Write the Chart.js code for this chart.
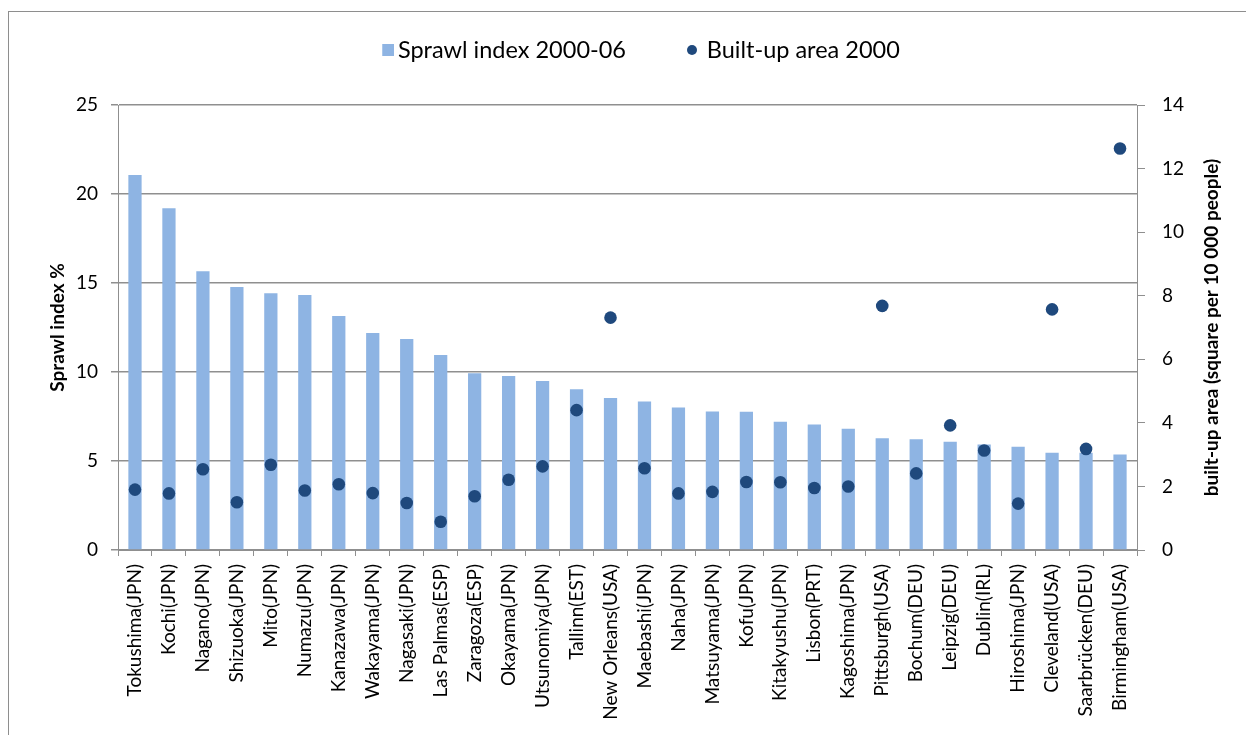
<!DOCTYPE html>
<html>
<head>
<meta charset="utf-8">
<script src="https://cdn.jsdelivr.net/npm/chart.js@4/dist/chart.umd.min.js"></script>
<style>
  html, body { margin: 0; padding: 0; background: #fff; overflow: hidden; }
  #frame { position: absolute; left: 8px; top: 11px; width: 1400px; height: 900px; border: 1px solid #8e8e8e; }
  #wrap { position: absolute; left: 0; top: 0; width: 1246px; height: 735px; }
</style>
</head>
<body>
<div id="frame"></div>
<div id="wrap"><canvas id="chart" width="1246" height="735"></canvas></div>
<script>
const cities = [
  "Tokushima(JPN)", "Kochi(JPN)", "Nagano(JPN)", "Shizuoka(JPN)", "Mito(JPN)",
  "Numazu(JPN)", "Kanazawa(JPN)", "Wakayama(JPN)", "Nagasaki(JPN)", "Las Palmas(ESP)",
  "Zaragoza(ESP)", "Okayama(JPN)", "Utsunomiya(JPN)", "Tallinn(EST)", "New Orleans(USA)",
  "Maebashi(JPN)", "Naha(JPN)", "Matsuyama(JPN)", "Kofu(JPN)", "Kitakyushu(JPN)",
  "Lisbon(PRT)", "Kagoshima(JPN)", "Pittsburgh(USA)", "Bochum(DEU)", "Leipzig(DEU)",
  "Dublin(IRL)", "Hiroshima(JPN)", "Cleveland(USA)", "Saarbrücken(DEU)", "Birmingham(USA)"
];

// sprawl index 2000-06, % (left axis)
const sprawlIndex = [
  21.07, 19.2, 15.66, 14.78, 14.42, 14.33, 13.15, 12.19, 11.85, 10.96,
  9.93, 9.78, 9.49, 9.03, 8.54, 8.34, 8.0, 7.78, 7.76, 7.2,
  7.05, 6.81, 6.28, 6.22, 6.08, 5.93, 5.8, 5.46, 5.46, 5.37
];

// built-up area 2000 (right axis)
const builtUpArea = [
  1.90, 1.78, 2.54, 1.50, 2.68, 1.87, 2.07, 1.79, 1.48, 0.89,
  1.69, 2.21, 2.63, 4.40, 7.31, 2.57, 1.78, 1.83, 2.14, 2.13,
  1.95, 2.00, 7.68, 2.41, 3.92, 3.13, 1.46, 7.57, 3.18, 12.63
];

const leftTicks = [0, 5, 10, 15, 20, 25];
const rightTicks = [0, 2, 4, 6, 8, 10, 12, 14];

const barColor = "#8EB4E3";
const dotColor = "#1F497D";
const axisColor = "#8f8f8f";
const fontFamily = "Lato, 'Open Sans', sans-serif";

// legend markers (square for bars, dot for the points)
function makeIcon(w, h, draw) {
  const c = document.createElement("canvas");
  c.width = w;
  c.height = h;
  draw(c.getContext("2d"));
  return c;
}
const squareIcon = makeIcon(56, 12, ctx => {
  ctx.fillStyle = barColor;
  ctx.fillRect(44, 0, 12, 12);
});
const dotIcon = makeIcon(46, 12, ctx => {
  ctx.fillStyle = dotColor;
  ctx.beginPath();
  ctx.arc(40, 6, 5, 0, Math.PI * 2);
  ctx.fill();
});

// right axis title reads bottom-to-top like the left one
const rightTitle = {
  id: "rightTitle",
  afterDraw(chart) {
    const ctx = chart.ctx;
    const area = chart.chartArea;
    ctx.save();
    ctx.translate(1212, (area.top + area.bottom) / 2);
    ctx.rotate(-Math.PI / 2);
    ctx.font = "bold 19px " + fontFamily;
    ctx.fillStyle = "#000";
    ctx.textAlign = "center";
    ctx.textBaseline = "middle";
    ctx.fillText("built-up area (square per 10 000 people)", 0, 0);
    ctx.restore();
  }
};

// push the plot down below the legend
const legendSpace = {
  id: "legendSpace",
  beforeInit(chart) {
    const fit = chart.legend.fit;
    chart.legend.fit = function () {
      fit.bind(chart.legend)();
      this.height += 33.25;
    };
  }
};

new Chart(document.getElementById("chart"), {
  type: "bar",
  data: {
    labels: cities,
    datasets: [
      {
        type: "line",
        label: "Built-up area 2000",
        data: builtUpArea,
        yAxisID: "y1",
        showLine: false,
        pointRadius: 6.3,
        pointBorderWidth: 0,
        pointBackgroundColor: dotColor,
        pointBorderColor: dotColor,
        order: 1
      },
      {
        label: "Sprawl index 2000-06",
        data: sprawlIndex,
        yAxisID: "y",
        backgroundColor: barColor,
        barPercentage: 0.39,
        categoryPercentage: 1,
        order: 2
      }
    ]
  },
  options: {
    responsive: false,
    animation: false,
    layout: { padding: { left: 0, right: 0, top: 9.25, bottom: 0 } },
    plugins: {
      tooltip: { enabled: false },
      legend: {
        position: "top",
        reverse: true,
        labels: {
          usePointStyle: true,
          pointStyleWidth: 40,
          boxWidth: 40,
          padding: 29,
          color: "#000",
          font: { family: fontFamily, size: 23.5 },
          generateLabels: chart => {
            const items = Chart.defaults.plugins.legend.labels.generateLabels(chart);
            items.forEach(item => {
              item.pointStyle = item.datasetIndex === 1 ? squareIcon : dotIcon;
            });
            return items;
          }
        }
      }
    },
    scales: {
      x: {
        grid: { display: true, drawOnChartArea: false, offset: true, tickLength: 6, color: axisColor },
        border: { color: axisColor },
        ticks: {
          autoSkip: false,
          minRotation: 90,
          maxRotation: 90,
          padding: 8,
          color: "#000",
          font: { family: fontFamily, size: 19 }
        },
        afterFit: scale => { scale.height = 185; }
      },
      y: {
        position: "left",
        min: 0,
        max: 25,
        afterBuildTicks: scale => { scale.ticks = leftTicks.map(v => ({ value: v })); },
        grid: { color: axisColor, lineWidth: 1.5, tickLength: 7 },
        border: { color: axisColor },
        ticks: { padding: 13, color: "#000", font: { family: fontFamily, size: 19 } },
        title: {
          display: true,
          text: "Sprawl index %",
          color: "#000",
          font: { family: fontFamily, size: 19, weight: "bold" },
          padding: { top: 46, bottom: 0 }
        },
        afterFit: scale => { scale.width = 118; }
      },
      y1: {
        position: "right",
        min: 0,
        max: 14,
        afterBuildTicks: scale => { scale.ticks = rightTicks.map(v => ({ value: v })); },
        grid: { drawOnChartArea: false, color: axisColor, tickLength: 8 },
        border: { color: axisColor },
        ticks: { padding: 17, color: "#000", font: { family: fontFamily, size: 19 } },
        afterFit: scale => { scale.width = 109; }
      }
    }
  },
  plugins: [legendSpace, rightTitle]
});
</script>
</body>
</html>
